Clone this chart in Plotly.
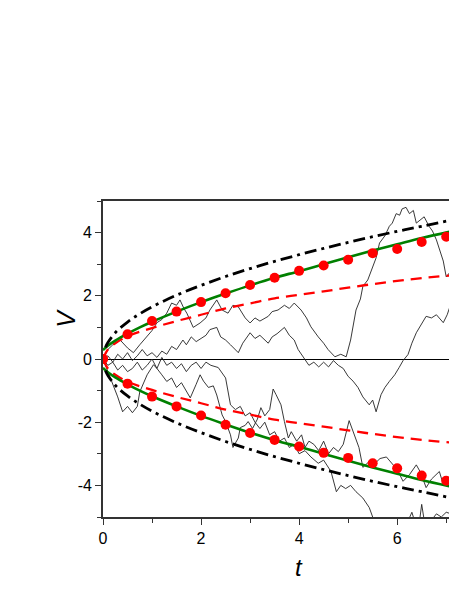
"""Random walk trajectories V(t) with envelope curves."""

import plotly.graph_objects as go

# envelope curves (upper branch; lower branch is the mirror image)
T_GREEN = [0, 0.1, 0.25, 0.5, 0.75, 1, 1.5, 2, 2.5, 3, 3.5, 4, 4.5, 5, 5.5, 6, 6.5, 7.22]
V_GREEN = [0.28, 0.42, 0.58, 0.8, 1.0, 1.18, 1.5, 1.8, 2.07, 2.33, 2.57, 2.78, 3.0, 3.22,
           3.43, 3.63, 3.83, 4.08]

T_RED = [0, 0.1, 0.25, 0.5, 1, 1.5, 2, 2.5, 3, 3.5, 4, 4.5, 5, 5.5, 6, 6.5, 7.22]
V_RED = [0, 0.3, 0.5, 0.72, 0.98, 1.2, 1.4, 1.6, 1.76, 1.92, 2.03, 2.14, 2.26, 2.37,
         2.47, 2.56, 2.66]

T_DASHDOT = [0.05, 0.1, 0.25, 0.5, 0.75, 1, 1.5, 2, 2.5, 3, 3.5, 4, 4.5, 5, 5.5, 6, 6.5, 7.22]
V_DASHDOT = [0.37, 0.52, 0.83, 1.17, 1.43, 1.65, 2.02, 2.33, 2.61, 2.86, 3.09, 3.3, 3.5,
             3.69, 3.87, 4.04, 4.2, 4.43]

T_DOTS = [0, 0.5, 1, 1.5, 2, 2.5, 3, 3.5, 4, 4.5, 5, 5.5, 6, 6.5, 7]
V_DOTS_UP = [0, 0.78, 1.2, 1.5, 1.8, 2.08, 2.34, 2.57, 2.79, 2.96, 3.14, 3.35, 3.48, 3.7, 3.87]
V_DOTS_LO = [0, -0.78, -1.19, -1.5, -1.79, -2.08, -2.34, -2.56, -2.77, -2.97, -3.13, -3.3,
             -3.46, -3.69, -3.85]

# sample trajectories
PATH_A = [(0, 0), (0.1, 0.3), (0.2, 0.45), (0.35, 0.6), (0.5, 0.35), (0.62, 0.2), (0.75, 0.45),
          (0.9, 0.7), (1.0, 0.9), (1.1, 1.15), (1.2, 1.25), (1.3, 1.45), (1.4, 1.77), (1.5, 1.7),
          (1.57, 1.87), (1.65, 1.6), (1.71, 1.45), (1.84, 1.0), (1.98, 1.14), (2.1, 1.3),
          (2.18, 1.55), (2.32, 1.87), (2.43, 1.55), (2.55, 1.45), (2.65, 1.7), (2.76, 1.65),
          (2.9, 1.3), (3.0, 1.14), (3.1, 1.3), (3.2, 1.2), (3.37, 1.35), (3.45, 1.5), (3.57, 1.55),
          (3.7, 1.7), (3.8, 1.6), (3.9, 1.77), (4.04, 1.55), (4.15, 1.3), (4.24, 1.02), (4.39, 0.7),
          (4.5, 0.5), (4.59, 0.3), (4.73, 0.07), (4.85, 0.15), (4.96, 0.07), (5.05, 0.6),
          (5.16, 1.55), (5.25, 1.9), (5.3, 2.3), (5.4, 2.5), (5.5, 2.9), (5.57, 3.2), (5.64, 3.67),
          (5.75, 3.9), (5.84, 4.2), (5.9, 4.3), (5.98, 4.6), (6.05, 4.55), (6.1, 4.75), (6.18, 4.8),
          (6.25, 4.6), (6.33, 4.7), (6.39, 4.3), (6.47, 4.4), (6.55, 4.5), (6.65, 4.2), (6.72, 4.05),
          (6.8, 3.77), (6.87, 3.4), (6.94, 3.1), (7.0, 2.6), (7.06, 2.7), (7.16, 2.9), (7.22, 3.45)]

PATH_B = [(0, 0), (0.1, 0.1), (0.2, -0.1), (0.3, 0.15), (0.4, 0.0), (0.5, 0.2), (0.6, -0.05),
          (0.7, 0.1), (0.8, 0.3), (0.9, 0.1), (1.0, 0.2), (1.1, 0.05), (1.2, 0.25), (1.3, 0.15),
          (1.4, 0.4), (1.5, 0.3), (1.63, 0.6), (1.7, 0.45), (1.8, 0.7), (1.9, 0.55), (2.0, 0.65),
          (2.1, 0.75), (2.18, 0.93), (2.32, 1.0), (2.4, 0.7), (2.5, 0.6), (2.6, 0.45), (2.76, 0.2),
          (2.85, 0.5), (2.9, 0.6), (3.0, 0.83), (3.1, 0.65), (3.2, 0.75), (3.37, 0.5), (3.45, 0.7),
          (3.55, 0.8), (3.7, 1.0), (3.8, 0.75), (3.9, 0.6), (3.98, 0.3), (4.05, 0.15), (4.12, 0.0),
          (4.2, -0.2), (4.3, -0.1), (4.4, -0.25), (4.5, -0.1), (4.6, -0.25), (4.7, -0.05),
          (4.8, -0.2), (4.9, -0.3), (5.0, -0.55), (5.1, -0.7), (5.2, -0.9), (5.3, -1.2),
          (5.43, -1.45), (5.5, -1.3), (5.57, -1.67), (5.67, -1.13), (5.75, -0.9), (5.84, -0.71),
          (5.95, -0.5), (6.04, -0.27), (6.12, -0.05), (6.22, 0.14), (6.3, 0.5), (6.39, 0.83),
          (6.5, 1.1), (6.59, 1.35), (6.7, 1.3), (6.8, 1.4), (6.94, 1.15), (7.02, 1.4), (7.1, 1.77),
          (7.22, 1.55)]

PATH_C = [(0, 0), (0.1, -0.4), (0.2, -0.8), (0.3, -1.2), (0.4, -1.67), (0.5, -1.5), (0.6, -1.7),
          (0.7, -1.5), (0.75, -1.04), (0.85, -0.7), (0.9, -0.5), (1.03, -0.18), (1.1, -0.3),
          (1.2, 0.05), (1.3, -0.2), (1.4, -0.1), (1.5, -0.3), (1.6, -0.15), (1.7, -0.4), (1.8, -0.2),
          (1.9, -0.1), (2.0, -0.3), (2.1, -0.1), (2.2, -0.2), (2.35, -0.27), (2.5, -0.6),
          (2.55, -1.04), (2.6, -1.45), (2.7, -1.6), (2.8, -1.5), (2.9, -1.8), (3.0, -1.7),
          (3.1, -2.0), (3.2, -2.2), (3.3, -2.0), (3.4, -2.4), (3.5, -2.3), (3.6, -2.6), (3.7, -2.5),
          (3.8, -2.8), (3.9, -2.7), (4.0, -3.0), (4.12, -2.9), (4.24, -3.1), (4.39, -3.3),
          (4.5, -3.2), (4.65, -3.56), (4.76, -4.2), (4.85, -4.0), (4.95, -4.1), (5.05, -4.0),
          (5.16, -4.2), (5.3, -4.4), (5.43, -4.7), (5.5, -5.0), (5.6, -5.3), (5.8, -5.6),
          (6.0, -5.4), (6.2, -5.2), (6.3, -4.85), (6.35, -5.1), (6.45, -5.2), (6.5, -4.6),
          (6.55, -5.1), (6.7, -5.1), (6.8, -4.9), (6.9, -5.0), (7.0, -4.85), (7.1, -4.9),
          (7.22, -4.6)]

PATH_D = [(0, 0), (0.1, -0.2), (0.2, -0.1), (0.3, -0.35), (0.4, -0.2), (0.5, -0.4), (0.6, -0.3),
          (0.7, -0.1), (0.8, -0.35), (0.9, -0.2), (1.0, 0.0), (1.1, -0.3), (1.2, -0.5), (1.3, -0.71),
          (1.4, -0.6), (1.5, -0.9), (1.6, -0.75), (1.7, -1.0), (1.78, -1.23), (1.9, -0.8),
          (1.98, -0.5), (2.05, -0.7), (2.15, -0.9), (2.25, -0.85), (2.32, -1.14), (2.43, -1.77),
          (2.5, -1.98), (2.6, -2.4), (2.65, -2.8), (2.76, -2.5), (2.8, -2.17), (2.9, -2.1),
          (2.96, -1.98), (3.05, -2.2), (3.15, -1.9), (3.22, -1.54), (3.3, -1.8), (3.4, -1.6),
          (3.47, -0.95), (3.53, -1.13), (3.63, -1.45), (3.7, -1.98), (3.78, -2.5), (3.84, -2.3),
          (3.95, -2.6), (4.05, -2.4), (4.12, -2.8), (4.2, -2.6), (4.3, -2.7), (4.4, -2.9),
          (4.5, -2.6), (4.6, -3.0), (4.7, -2.8), (4.8, -2.93), (4.9, -2.7), (5.02, -1.95),
          (5.1, -2.3), (5.22, -2.8), (5.3, -3.43), (5.43, -3.24), (5.55, -3.3), (5.65, -3.15),
          (5.78, -3.1), (5.9, -3.3), (6.0, -3.5), (6.12, -3.87), (6.25, -3.66), (6.39, -3.35),
          (6.48, -3.6), (6.59, -4.07), (6.7, -3.8), (6.86, -3.56), (6.94, -3.97), (7.05, -3.8),
          (7.14, -3.43), (7.22, -3.66)]

FONT = "Liberation Sans, Arial, sans-serif"

fig = go.Figure()

for path in (PATH_A, PATH_B, PATH_C, PATH_D):
    fig.add_trace(go.Scatter(
        x=[p[0] for p in path], y=[p[1] for p in path],
        mode="lines", line=dict(color="#222222", width=0.9),
        hoverinfo="skip",
    ))

for sign in (1, -1):
    fig.add_trace(go.Scatter(
        x=T_RED, y=[sign * v for v in V_RED], mode="lines", line_shape="spline",
        line=dict(color="#ff0000", width=2.3, dash="11px,7px"),
    ))
    fig.add_trace(go.Scatter(
        x=T_GREEN, y=[sign * v for v in V_GREEN], mode="lines", line_shape="spline",
        line=dict(color="#008000", width=2.6),
    ))
    fig.add_trace(go.Scatter(
        x=T_DASHDOT, y=[sign * v for v in V_DASHDOT], mode="lines", line_shape="spline",
        line=dict(color="#000000", width=2.8, dash="12px,5px,3px,5px"),
    ))

for vals in (V_DOTS_UP, V_DOTS_LO):
    fig.add_trace(go.Scatter(
        x=T_DOTS, y=vals, mode="markers",
        marker=dict(color="#ff0000", size=10, line=dict(width=0)),
    ))

axis_common = dict(
    showgrid=False, showline=True, linecolor="#333333", linewidth=1.6,
    ticks="outside", ticklen=6, tickwidth=1.4, tickcolor="#333333",
    tickfont=dict(family=FONT, size=16, color="#000000"),
)

# the page body adds an 8px offset, so the figure is sized/margined to compensate
fig.update_layout(
    width=449, height=575,
    margin=dict(l=95, r=0, t=193, b=66),
    paper_bgcolor="white", plot_bgcolor="white",
    showlegend=False,
    xaxis=dict(
        range=[0, 7.22], tickvals=[0, 2, 4, 6], mirror=True, zeroline=False,
        minor=dict(tickvals=[1, 3, 5, 7], ticks="outside", ticklen=4, tickcolor="#333333"),
        **axis_common,
    ),
    yaxis=dict(
        range=[-5, 5], tickvals=[-4, -2, 0, 2, 4], ticktext=["-4", "-2", "0", "2", "4"],
        zeroline=True, zerolinecolor="#000000", zerolinewidth=1,
        minor=dict(tickvals=[-5, -3, -1, 1, 3, 5], ticks="outside", ticklen=4,
                   tickcolor="#333333"),
        **axis_common,
    ),
    annotations=[
        dict(text="<i>V</i>", x=-0.105, y=0.63, xref="paper", yref="paper",
             xanchor="center", yanchor="middle",
             showarrow=False, textangle=-90, font=dict(family=FONT, size=25, color="#000")),
        dict(text="<i>t</i>", x=0.554, y=-0.16, xref="paper", yref="paper",
             xanchor="center", yanchor="middle",
             showarrow=False, font=dict(family=FONT, size=24, color="#000")),
    ],
)

fig.write_html("out.html")
